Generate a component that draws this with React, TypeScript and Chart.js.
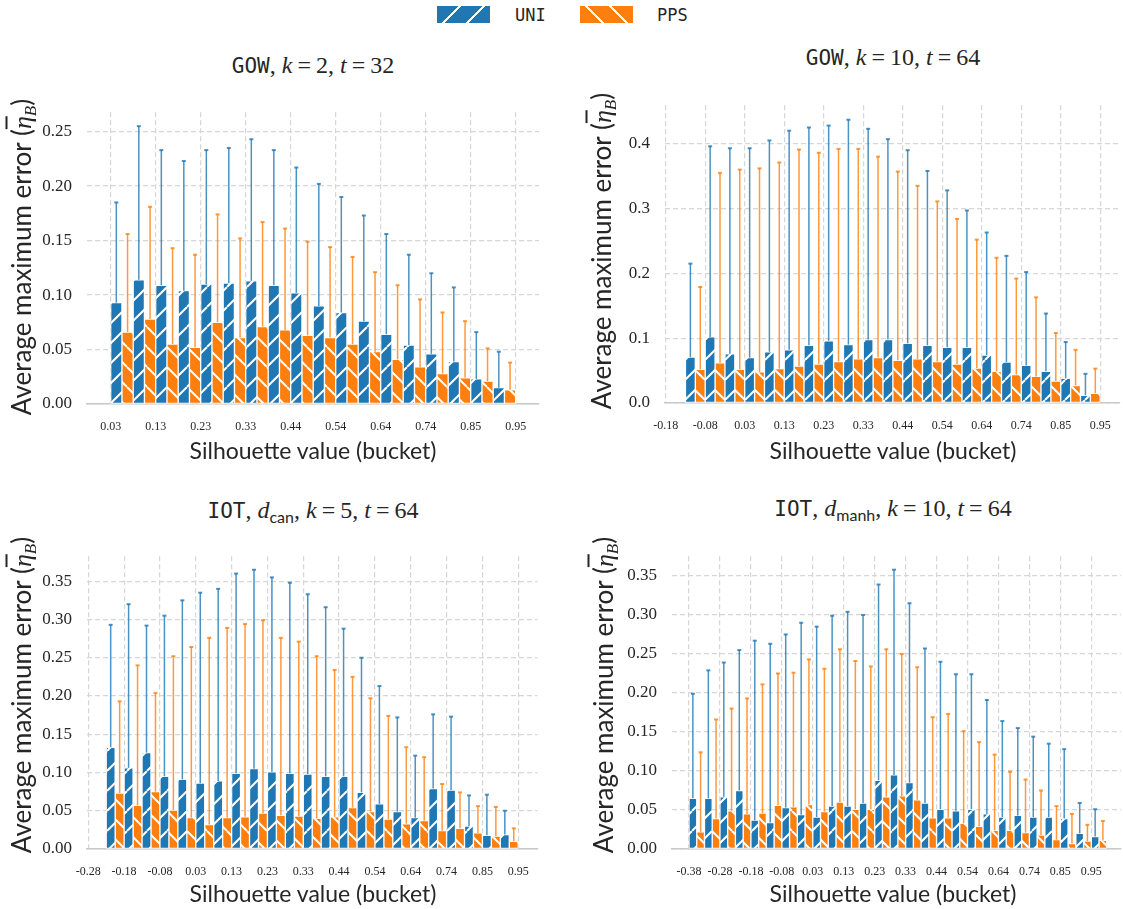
import React, { useEffect, useRef } from 'react';
import { Chart, registerables } from 'chart.js';

Chart.register(...registerables);

const BLUE = '#1f77b4';
const ORANGE = '#ff7f0e';

// ---------- Panel 1: GOW, k=2, t=32 ----------
const tlLabels = ['0.03', '0.13', '0.23', '0.33', '0.44', '0.54', '0.64', '0.74', '0.85', '0.95'];
const tlStart = 0;
const tlUni = [0.093, 0.114, 0.109, 0.104, 0.110, 0.111, 0.113, 0.109, 0.102, 0.090, 0.084, 0.076, 0.064, 0.054, 0.046, 0.039, 0.023, 0.015];
const tlUniErr = [0.185, 0.255, 0.233, 0.223, 0.233, 0.235, 0.243, 0.233, 0.217, 0.202, 0.190, 0.173, 0.156, 0.137, 0.120, 0.107, 0.066, 0.048];
const tlPps = [0.066, 0.078, 0.055, 0.052, 0.075, 0.061, 0.071, 0.068, 0.063, 0.061, 0.055, 0.048, 0.041, 0.034, 0.028, 0.024, 0.021, 0.013];
const tlPpsErr = [0.156, 0.181, 0.143, 0.137, 0.174, 0.152, 0.167, 0.161, 0.149, 0.144, 0.135, 0.121, 0.109, 0.096, 0.084, 0.076, 0.051, 0.038];
const tlYTicks = [0, 0.05, 0.1, 0.15, 0.2, 0.25];

// ---------- Panel 2: GOW, k=10, t=64 ----------
const trLabels = ['-0.18', '-0.08', '0.03', '0.13', '0.23', '0.33', '0.44', '0.54', '0.64', '0.74', '0.85', '0.95'];
const trStart = 1;
const trUni = [0.071, 0.102, 0.076, 0.070, 0.079, 0.082, 0.089, 0.096, 0.090, 0.098, 0.098, 0.092, 0.089, 0.086, 0.086, 0.074, 0.063, 0.058, 0.049, 0.038, 0.012];
const trUniErr = [0.215, 0.396, 0.393, 0.393, 0.405, 0.420, 0.425, 0.428, 0.437, 0.423, 0.407, 0.390, 0.358, 0.328, 0.297, 0.263, 0.227, 0.202, 0.138, 0.094, 0.045];
const trPps = [0.052, 0.062, 0.052, 0.048, 0.053, 0.057, 0.060, 0.064, 0.068, 0.070, 0.066, 0.068, 0.064, 0.060, 0.054, 0.049, 0.044, 0.041, 0.034, 0.027, 0.015];
const trPpsErr = [0.179, 0.355, 0.360, 0.362, 0.371, 0.391, 0.386, 0.392, 0.392, 0.380, 0.357, 0.335, 0.311, 0.284, 0.252, 0.224, 0.192, 0.163, 0.108, 0.082, 0.053];
const trYTicks = [0, 0.1, 0.2, 0.3, 0.4];

// ---------- Panel 3: IOT, d_can, k=5, t=64 ----------
const blLabels = ['-0.28', '-0.18', '-0.08', '0.03', '0.13', '0.23', '0.33', '0.44', '0.54', '0.64', '0.74', '0.85', '0.95'];
const blStart = 1;
const blUni = [0.133, 0.106, 0.126, 0.095, 0.091, 0.086, 0.089, 0.099, 0.105, 0.101, 0.099, 0.098, 0.095, 0.095, 0.074, 0.059, 0.049, 0.041, 0.079, 0.077, 0.030, 0.018, 0.019];
const blUniErr = [0.293, 0.320, 0.292, 0.305, 0.325, 0.335, 0.340, 0.360, 0.365, 0.355, 0.348, 0.333, 0.316, 0.288, 0.250, 0.213, 0.172, 0.122, 0.176, 0.173, 0.070, 0.071, 0.050];
const blPps = [0.073, 0.057, 0.075, 0.051, 0.041, 0.032, 0.041, 0.042, 0.047, 0.044, 0.043, 0.040, 0.042, 0.054, 0.049, 0.039, 0.033, 0.037, 0.024, 0.027, 0.021, 0.017, 0.010];
const blPpsErr = [0.193, 0.240, 0.204, 0.252, 0.264, 0.276, 0.289, 0.294, 0.299, 0.276, 0.271, 0.252, 0.234, 0.225, 0.197, 0.174, 0.133, 0.120, 0.085, 0.074, 0.056, 0.055, 0.027];
const blYTicks = [0, 0.05, 0.1, 0.15, 0.2, 0.25, 0.3, 0.35];

// ---------- Panel 4: IOT, d_manh, k=10, t=64 ----------
const brLabels = ['-0.38', '-0.28', '-0.18', '-0.08', '0.03', '0.13', '0.23', '0.33', '0.44', '0.54', '0.64', '0.74', '0.85', '0.95'];
const brStart = 0;
const brUni = [0.065, 0.065, 0.067, 0.075, 0.037, 0.034, 0.053, 0.044, 0.041, 0.055, 0.055, 0.059, 0.088, 0.095, 0.085, 0.059, 0.051, 0.049, 0.051, 0.045, 0.041, 0.043, 0.041, 0.041, 0.039, 0.020, 0.016];
const brUniErr = [0.199, 0.229, 0.239, 0.255, 0.267, 0.263, 0.275, 0.290, 0.285, 0.299, 0.304, 0.300, 0.339, 0.358, 0.315, 0.257, 0.240, 0.224, 0.224, 0.191, 0.164, 0.155, 0.144, 0.135, 0.128, 0.059, 0.051];
const brPps = [0.022, 0.039, 0.049, 0.045, 0.046, 0.056, 0.054, 0.057, 0.048, 0.060, 0.051, 0.051, 0.067, 0.068, 0.063, 0.040, 0.040, 0.033, 0.029, 0.024, 0.024, 0.021, 0.018, 0.012, 0.007, 0.010, 0.011];
const brPpsErr = [0.124, 0.166, 0.180, 0.193, 0.211, 0.225, 0.226, 0.243, 0.231, 0.256, 0.241, 0.234, 0.256, 0.250, 0.233, 0.169, 0.173, 0.151, 0.137, 0.121, 0.099, 0.089, 0.075, 0.055, 0.045, 0.031, 0.036];
const brYTicks = [0, 0.05, 0.1, 0.15, 0.2, 0.25, 0.3, 0.35];

type PanelDef = {
  labels: string[]; start: number;
  uni: number[]; uniErr: number[]; pps: number[]; ppsErr: number[];
  yTicks: number[]; dec: number;
  L: number; R: number; T: number; B: number;
  xMin: number; xMax: number; yMax: number;
};

const panels: PanelDef[] = [
  { labels: tlLabels, start: tlStart, uni: tlUni, uniErr: tlUniErr, pps: tlPps, ppsErr: tlPpsErr, yTicks: tlYTicks, dec: 2,
    L: 87, R: 539, T: 93, B: 404, xMin: -1.053, xMax: 19.036, yMax: 0.2678 },
  { labels: trLabels, start: trStart, uni: trUni, uniErr: trUniErr, pps: trPps, ppsErr: trPpsErr, yTicks: trYTicks, dec: 1,
    L: 665, R: 1121, T: 86, B: 403, xMin: -0.035, xMax: 22.96, yMax: 0.4594 },
  { labels: blLabels, start: blStart, uni: blUni, uniErr: blUniErr, pps: blPps, ppsErr: blPpsErr, yTicks: blYTicks, dec: 2,
    L: 87, R: 539, T: 537, B: 849, xMin: -0.072, xMax: 25.07, yMax: 0.3827 },
  { labels: brLabels, start: brStart, uni: brUni, uniErr: brUniErr, pps: brPps, ppsErr: brPpsErr, yTicks: brYTicks, dec: 2,
    L: 672, R: 1121, T: 537, B: 849, xMin: -1.099, xMax: 27.92, yMax: 0.3753 },
];

const YW = 80, XH = 40, PT = 6, PR = 6;
const GRID = '#d6d6d6';
const TEXT = '#262626';

function makePattern(ctx: CanvasRenderingContext2D, color: string, dir: string) {
  const s = 20;
  const c = document.createElement('canvas');
  c.width = s; c.height = s;
  const g = c.getContext('2d')!;
  g.fillStyle = color;
  g.fillRect(0, 0, s, s);
  g.strokeStyle = '#ffffff';
  g.lineWidth = 2;
  g.beginPath();
  for (const o of [-s, 0, s]) {
    if (dir === '/') { g.moveTo(o, s); g.lineTo(o + s, 0); }
    else { g.moveTo(o, 0); g.lineTo(o + s, s); }
  }
  g.stroke();
  return ctx.createPattern(c, 'repeat');
}

const errPlugin = {
  id: 'errbars',
  afterDatasetsDraw(chart: any) {
    const ctx = chart.ctx;
    const ys = chart.scales.y;
    chart.data.datasets.forEach((ds: any, di: number) => {
      const meta = chart.getDatasetMeta(di);
      meta.data.forEach((el: any, j: number) => {
        const e = ds.errTop[j];
        if (e == null) return;
        const top = ys.getPixelForValue(e);
        ctx.save();
        ctx.strokeStyle = ds.errColor;
        ctx.lineWidth = 1.5;
        ctx.beginPath();
        ctx.moveTo(el.x, el.y);
        ctx.lineTo(el.x, top);
        ctx.stroke();
        ctx.lineWidth = 2;
        ctx.beginPath();
        ctx.moveTo(el.x - 2, top);
        ctx.lineTo(el.x + 2, top);
        ctx.stroke();
        ctx.restore();
      });
    });
  },
};

function Panel({ p }: { p: PanelDef }) {
  const ref = useRef<HTMLCanvasElement>(null);
  const w = p.R - p.L + YW + PR;
  const h = p.B - p.T + PT + XH;
  useEffect(() => {
    const canvas = ref.current!;
    const ctx = canvas.getContext('2d')!;
    const chart = new Chart(canvas, {
      type: 'bar',
      data: {
        datasets: [
          {
            label: 'UNI',
            data: p.uni.map((v, i) => ({ x: p.start + i + 0.5, y: v })),
            backgroundColor: makePattern(ctx, BLUE, '/') as any,
            borderColor: '#ffffff', borderWidth: 1, borderSkipped: false,
            errTop: p.uniErr, errColor: 'rgba(31,119,180,0.8)',
          } as any,
          {
            label: 'PPS',
            data: p.pps.map((v, i) => ({ x: p.start + i + 0.5, y: v })),
            backgroundColor: makePattern(ctx, ORANGE, '\\') as any,
            borderColor: '#ffffff', borderWidth: 1, borderSkipped: false,
            errTop: p.ppsErr, errColor: 'rgba(255,127,14,0.8)',
          } as any,
        ],
      },
      options: {
        responsive: false,
        maintainAspectRatio: false,
        animation: false,
        events: [],
        layout: { padding: { top: PT, right: PR, left: 0, bottom: 0 }, autoPadding: false } as any,
        plugins: { legend: { display: false }, title: { display: false }, tooltip: { enabled: false } },
        datasets: { bar: { categoryPercentage: 1, barPercentage: 1 } },
        scales: {
          x: {
            type: 'linear', min: p.xMin, max: p.xMax, offset: false,
            grid: { offset: false, color: GRID, lineWidth: 1.2, drawTicks: false },
            border: { display: true, color: '#c8c8c8', width: 1.5, dash: [5, 3] },
            ticks: {
              padding: 16, autoSkip: false, maxRotation: 0, minRotation: 0, color: TEXT,
              font: { family: "'Liberation Serif', serif", size: 12 },
              callback: (_v: any, i: number) => p.labels[i] ?? '',
            },
            afterBuildTicks: (ax: any) => { ax.ticks = p.labels.map((_, i) => ({ value: i * 2 })); },
            afterFit: (ax: any) => { ax.height = XH; },
          } as any,
          y: {
            type: 'linear', min: 0, max: p.yMax,
            grid: { color: GRID, lineWidth: 1.2, drawTicks: false },
            border: { display: false, dash: [5, 3] },
            ticks: {
              padding: 15, color: TEXT,
              font: { family: "'Liberation Serif', serif", size: 17 },
              callback: (v: any) => Number(v).toFixed(p.dec),
            },
            afterBuildTicks: (ax: any) => { ax.ticks = p.yTicks.map((v) => ({ value: v })); },
            afterFit: (ax: any) => { ax.width = YW; },
          } as any,
        },
      },
      plugins: [errPlugin as any],
    });
    return () => chart.destroy();
  }, []);
  return (
    <canvas
      ref={ref}
      width={w}
      height={h}
      style={{ position: 'absolute', left: p.L - YW, top: p.T - PT, width: w, height: h }}
    />
  );
}

const mono = "'DejaVu Sans Mono', monospace";
const serif = "'Liberation Serif', serif";
const sans = "Lato, 'Open Sans', sans-serif";

function Title({ cx, cy, children }: { cx: number; cy: number; children: any }) {
  return (
    <div style={{
      position: 'absolute', left: cx - 250, width: 500, top: cy - 15, height: 30, lineHeight: '30px',
      textAlign: 'center', fontSize: 24, fontFamily: serif, color: TEXT, whiteSpace: 'nowrap',
    }}>{children}</div>
  );
}

function XTitle({ cx, cy }: { cx: number; cy: number }) {
  return (
    <div style={{
      position: 'absolute', left: cx - 200, width: 400, top: cy - 14, height: 28, lineHeight: '28px',
      textAlign: 'center', fontSize: 23, fontFamily: sans, color: TEXT, whiteSpace: 'nowrap',
    }}>Silhouette value (bucket)</div>
  );
}

function YTitle({ cx, cy }: { cx: number; cy: number }) {
  return (
    <div style={{
      position: 'absolute', left: cx, top: cy, transform: 'translate(-50%, -50%) rotate(-90deg)',
      fontSize: 26, lineHeight: '32px', fontFamily: sans, color: TEXT, whiteSpace: 'nowrap',
    }}>
      Average maximum error (
      <span style={{ fontFamily: serif, fontStyle: 'italic' }}>
        <span style={{ textDecoration: 'overline' }}>η</span>
        <span style={{ fontSize: 17, position: 'relative', top: 5 }}>B</span>
      </span>)
    </div>
  );
}

const eq = (s: string) => <span style={{ margin: '0 5px' }}>{s}</span>;
const k = (s: string) => <i style={{ fontFamily: serif }}>{s}</i>;

export default function App() {
  return (
    <div style={{ position: 'absolute', left: 0, top: 0, width: 1123, height: 909, background: '#ffffff', overflow: 'hidden' }}>
      {/* Legend */}
      <div style={{ position: 'absolute', left: 437, top: 6, width: 53, height: 17,
        background: `repeating-linear-gradient(135deg, ${BLUE} 0px, ${BLUE} 15px, #ffffff 15px, #ffffff 17px)` }} />
      <div style={{ position: 'absolute', left: 515, top: 4, lineHeight: '22px', fontSize: 17, fontFamily: mono, color: TEXT }}>UNI</div>
      <div style={{ position: 'absolute', left: 580, top: 6, width: 53, height: 17,
        background: `repeating-linear-gradient(45deg, ${ORANGE} 0px, ${ORANGE} 15px, #ffffff 15px, #ffffff 17px)` }} />
      <div style={{ position: 'absolute', left: 657, top: 4, lineHeight: '22px', fontSize: 17, fontFamily: mono, color: TEXT }}>PPS</div>

      {panels.map((p, i) => <Panel key={i} p={p} />)}

      <Title cx={313} cy={65}><span style={{ fontFamily: mono, fontSize: 21 }}>GOW</span>, {k('k')}{eq('=')}2, {k('t')}{eq('=')}32</Title>
      <Title cx={893} cy={57}><span style={{ fontFamily: mono, fontSize: 21 }}>GOW</span>, {k('k')}{eq('=')}10, {k('t')}{eq('=')}64</Title>
      <Title cx={313} cy={510}>
        <span style={{ fontFamily: mono, fontSize: 21 }}>IOT</span>, {k('d')}
        <span style={{ fontFamily: sans, fontSize: 16, position: 'relative', top: 5 }}>can</span>, {k('k')}{eq('=')}5, {k('t')}{eq('=')}64
      </Title>
      <Title cx={893} cy={508}>
        <span style={{ fontFamily: mono, fontSize: 21 }}>IOT</span>, {k('d')}
        <span style={{ fontFamily: sans, fontSize: 16, position: 'relative', top: 5 }}>manh</span>, {k('k')}{eq('=')}10, {k('t')}{eq('=')}64
      </Title>

      <XTitle cx={313} cy={450} />
      <XTitle cx={893} cy={450} />
      <XTitle cx={313} cy={893} />
      <XTitle cx={893} cy={893} />

      <YTitle cx={23} cy={257} />
      <YTitle cx={603} cy={251} />
      <YTitle cx={23} cy={695} />
      <YTitle cx={605} cy={695} />
    </div>
  );
}
